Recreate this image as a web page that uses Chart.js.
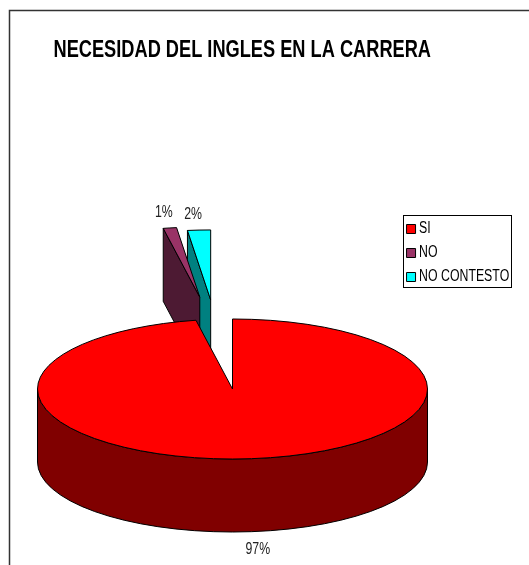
<!DOCTYPE html>
<html>
<head>
<meta charset="utf-8">
<style>
  html, body { margin: 0; padding: 0; background: #fff; }
  canvas { display: block; }
</style>
<script src="https://cdn.jsdelivr.net/npm/chart.js@4"></script>
</head>
<body>
<canvas id="graficoTorta" width="529" height="565"></canvas>
<script>
// datos
const categorias = ['SI', 'NO', 'NO CONTESTO'];
const valores = [97, 1.1, 1.9];
const colores = ['#ff0000', '#993366', '#00ffff'];
const coloresLado = ['#800000', '#4d1a33', '#008080'];

// perspectiva de la torta
const APLASTADO = 0.359;
const ALTO = 73;
const SEPARACION = [0, 259, 248.5];
const AJUSTE_X = [0, 7, -7];
const FUENTE = '"Liberation Sans", Arial, sans-serif';
const ESTRECHO = 0.77;

// no hay Arial Narrow instalada: todo el texto se angosta con maxWidth
const lienzo = document.getElementById('graficoTorta').getContext('2d');
const fillTextOriginal = lienzo.fillText;
lienzo.fillText = function (texto, x, y, maximo) {
  const ancho = this.measureText(texto).width * ESTRECHO;
  fillTextOriginal.call(this, texto, x, y, maximo === undefined ? ancho : Math.min(ancho, maximo));
};

function geometria(arco, i) {
  const medio = (arco.startAngle + arco.endAngle) / 2;
  const ox = Math.cos(medio) * SEPARACION[i] + AJUSTE_X[i];
  const oy = Math.sin(medio) * SEPARACION[i] * APLASTADO;
  return { medio, ox, oy, ax: arco.x + ox, ay: arco.y + oy, r: arco.outerRadius };
}

const torta3d = {
  id: 'torta3d',
  beforeDraw(chart) {
    // marco del grafico, sigue fuera de la imagen
    const ctx = chart.ctx;
    ctx.save();
    ctx.fillStyle = '#fff';
    ctx.fillRect(0, 0, chart.width, chart.height);
    ctx.strokeStyle = '#333';
    ctx.lineWidth = 1.5;
    ctx.beginPath();
    ctx.moveTo(9.5, chart.height);
    ctx.lineTo(9.5, 10.5);
    ctx.lineTo(chart.width, 10.5);
    ctx.stroke();
    ctx.restore();
  },
  afterLayout(chart) {
    // titulo y leyenda van en su lugar, el area queda para la torta
    const t = chart.titleBlock;
    t.left = 53.5; t.right = 431; t.top = 36; t.bottom = 65;
    const l = chart.legend;
    l.left = 403; l.right = 512; l.top = 213; l.bottom = 340;
    chart.chartArea = { left: 0, right: 465, top: 213, bottom: 565, width: 465, height: 352 };
  },
  beforeDatasetsDraw(chart) {
    const ctx = chart.ctx;
    const arcos = chart.getDatasetMeta(0).data;
    ctx.save();
    ctx.strokeStyle = '#000';
    ctx.lineWidth = 1;
    ctx.lineJoin = 'round';

    // primero las tajadas separadas, la grande queda encima
    [2, 1, 0].forEach(i => {
      const arco = arcos[i];
      const g = geometria(arco, i);
      const k = g.r * APLASTADO;

      // cara del corte
      if (i > 0) {
        ctx.beginPath();
        ctx.moveTo(g.ax, g.ay);
        ctx.lineTo(g.ax + Math.cos(arco.startAngle) * g.r, g.ay + Math.sin(arco.startAngle) * k);
        ctx.lineTo(g.ax + Math.cos(arco.startAngle) * g.r, g.ay + Math.sin(arco.startAngle) * k + ALTO);
        ctx.lineTo(g.ax, g.ay + ALTO);
        ctx.closePath();
        ctx.fillStyle = coloresLado[i];
        ctx.fill();
        ctx.stroke();
      }

      // pared exterior
      const a = Math.max(arco.startAngle, 0);
      const b = Math.min(arco.endAngle, Math.PI);
      if (b > a) {
        ctx.beginPath();
        ctx.ellipse(g.ax, g.ay, g.r, k, 0, a, b);
        ctx.ellipse(g.ax, g.ay + ALTO, g.r, k, 0, b, a, true);
        ctx.closePath();
        ctx.fillStyle = coloresLado[i];
        ctx.fill();
        ctx.stroke();
      }

      // tapa, la dibuja el propio arco de Chart.js
      ctx.save();
      ctx.translate(g.ox, arco.y + g.oy);
      ctx.scale(1, APLASTADO);
      ctx.translate(0, -arco.y);
      arco.draw(ctx);
      ctx.restore();

      ctx.beginPath();
      ctx.moveTo(g.ax, g.ay);
      ctx.ellipse(g.ax, g.ay, g.r, k, 0, arco.startAngle, arco.endAngle);
      ctx.closePath();
      ctx.stroke();
    });
    ctx.restore();
    return false;
  },
  afterDraw(chart) {
    const ctx = chart.ctx;
    const arcos = chart.getDatasetMeta(0).data;
    ctx.save();

    // cuadro de la leyenda
    ctx.strokeStyle = '#000';
    ctx.lineWidth = 1;
    ctx.strokeRect(403.5, 215.5, 108, 72);

    // porcentajes
    ctx.fillStyle = '#222';
    ctx.font = '16px ' + FUENTE;
    ctx.textAlign = 'center';
    ctx.textBaseline = 'middle';
    arcos.forEach((arco, i) => {
      const g = geometria(arco, i);
      const sx = Math.cos(g.medio);
      const sy = Math.sin(g.medio);
      const abajo = sy > 0;
      const x = g.ax + sx * g.r + (abajo ? 7 : -6);
      const y = g.ay + sy * g.r * APLASTADO + (abajo ? ALTO + 18 : -15);
      ctx.fillText(Math.round(valores[i]) + '%', x, y);
    });
    ctx.restore();
  }
};

new Chart(lienzo, {
  type: 'pie',
  data: {
    labels: categorias,
    datasets: [{
      data: valores,
      backgroundColor: colores,
      borderWidth: 0
    }]
  },
  options: {
    responsive: false,
    animation: false,
    radius: 195,
    rotation: 0,
    plugins: {
      title: {
        display: true,
        text: 'NECESIDAD DEL INGLES EN LA CARRERA',
        align: 'start',
        color: '#000',
        padding: 0,
        font: { family: FUENTE, size: 24, weight: 'bold' }
      },
      legend: {
        position: 'right',
        align: 'start',
        labels: {
          color: '#000',
          font: { family: FUENTE, size: 16 },
          padding: 8,
          usePointStyle: true,
          pointStyle: 'rect',
          boxWidth: 0.1,
          boxHeight: 9,
          generateLabels(chart) {
            return Chart.overrides.pie.plugins.legend.labels.generateLabels(chart).map(item => {
              item.strokeStyle = '#000';
              item.lineWidth = 1;
              item.lineJoin = 'miter';
              item.pointStyle = 'rect';
              return item;
            });
          }
        }
      },
      tooltip: { enabled: false }
    }
  },
  plugins: [torta3d]
});
</script>
</body>
</html>
